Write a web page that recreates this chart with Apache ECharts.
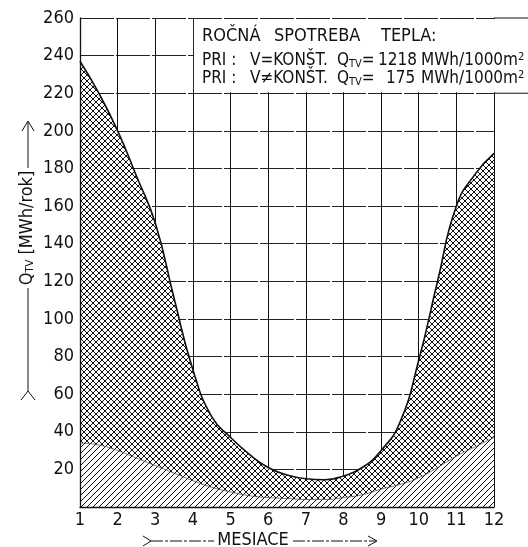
<!DOCTYPE html>
<html lang="sk">
<head>
<meta charset="UTF-8">
<title>Ročná spotreba tepla</title>
<script src="https://cdn.jsdelivr.net/npm/echarts@6/dist/echarts.min.js"></script>
<style>
    body { margin: 0; background: #fff; }
    #chart { width: 528px; height: 547px; }
</style>
</head>
<body>
<div id="chart"></div>
<script>
    // horná krivka (V = konšt.) - body odčítané z obrázka po pol mesiaci
    const upperX = [1, 1.5, 2, 2.5, 3, 3.5, 4, 4.5, 5, 5.5, 6, 6.5, 7, 7.5, 8, 8.5, 9, 9.5, 10, 10.5, 11, 11.5, 12]
    const upperY = [237, 220, 200, 176, 151, 111, 73, 48, 37, 28, 21, 17, 15, 14.5, 16.5, 21, 30, 45, 78, 120, 160, 177, 188]

    // dolná krivka (V ≠ konšt.)
    const lowerX = [1, 1.5, 2, 2.5, 3, 3.5, 4, 4.5, 5, 5.5, 6, 6.5, 7, 7.5, 8, 8.5, 9, 9.5, 10, 10.5, 11, 11.5, 12]
    const lowerY = [34, 33, 30, 26, 22, 18, 14, 10.5, 8, 6, 5, 4.5, 4, 4, 5, 6.5, 9.5, 12, 15.5, 21, 27, 32, 37]

    const yTicks = [20, 40, 60, 80, 100, 120, 140, 160, 180, 200, 220, 240, 260]
    const months = [1, 2, 3, 4, 5, 6, 7, 8, 9, 10, 11, 12]

    const F = '"DejaVu Sans Condensed", "Liberation Sans Narrow", "Liberation Sans", sans-serif'
    const INK = '#111'

    // rozmery grafu
    const L = 80, R = 34, T = 18, B = 40, W = 528, H = 547
    const px = m => L + (m - 1) * (W - L - R) / 11
    const py = v => T + (260 - v) * (H - T - B) / 260

    function hatch(cross, size, lw) {
        const c = document.createElement('canvas')
        c.width = c.height = size
        const g = c.getContext('2d')
        g.fillStyle = '#fff'
        g.fillRect(0, 0, size, size)
        g.strokeStyle = INK
        g.lineWidth = lw
        g.beginPath()
        g.moveTo(0, size); g.lineTo(size, 0)
        g.moveTo(-1, 1); g.lineTo(1, -1)
        g.moveTo(size - 1, size + 1); g.lineTo(size + 1, size - 1)
        if (cross) {
            g.moveTo(0, 0); g.lineTo(size, size)
            g.moveTo(-1, size - 1); g.lineTo(1, size + 1)
            g.moveTo(size - 1, -1); g.lineTo(size + 1, 1)
        }
        g.stroke()
        return c
    }

    const sub = { fontSize: 11, fontFamily: F, fill: INK, verticalAlign: 'bottom', padding: [7, 0, 0, 0] }
    const sup = { fontSize: 11, fontFamily: F, fill: INK, verticalAlign: 'top', padding: [0, 0, 7, 0] }

    function txt(x, y, s, size) {
        return {
            type: 'text', x: x, y: y, z: 110,
            style: { text: s, fontSize: size || 17, fontFamily: F, fill: INK,
                     align: 'left', verticalAlign: 'middle', rich: { s: sub, p: sup } }
        }
    }
    function seg(pts, dash) {
        return { type: 'polyline', z: 110, shape: { points: pts },
                 style: { stroke: INK, lineWidth: 1, fill: null, lineDash: dash || null } }
    }

    const chart = echarts.init(document.getElementById('chart'))

    const option = {
        animation: false,
        backgroundColor: '#fff',
        grid: { left: L, right: R, top: T, bottom: B },
        xAxis: {
            type: 'value', min: 1, max: 12, interval: 1, z: 3,
            axisLine: { show: true, lineStyle: { color: INK, width: 1.3 } },
            axisTick: { show: false },
            axisLabel: { color: INK, fontSize: 18, fontFamily: F, margin: 4,
                         formatter: v => months.includes(v) ? String(v) : '' },
            splitLine: { show: true, lineStyle: { color: INK, width: 1 } }
        },
        yAxis: {
            type: 'value', min: 0, max: 260, interval: 20, z: 3,
            axisLine: { show: true, lineStyle: { color: INK, width: 1.3 } },
            axisTick: { show: false },
            axisLabel: { color: INK, fontSize: 18, fontFamily: F, margin: 6,
                         formatter: v => yTicks.includes(v) ? String(v) : '' },
            splitLine: { show: true, lineStyle: { color: '#222', width: 1, type: [34, 2] } }
        },
        series: [
            {
                type: 'line',
                data: upperX.map((x, i) => [x, upperY[i]]),
                smooth: 0.5, symbol: 'none',
                lineStyle: { color: INK, width: 1.6 },
                areaStyle: { color: { image: hatch(true, 6, 1), repeat: 'repeat' }, opacity: 1 }
            },
            {
                type: 'line',
                data: lowerX.map((x, i) => [x, lowerY[i]]),
                smooth: 0.5, symbol: 'none',
                lineStyle: { color: '#444', width: 0.7 },
                areaStyle: { color: { image: hatch(false, 6, 1), repeat: 'repeat' }, opacity: 1 }
            }
        ],
        graphic: [
            // biely rámček s textom
            { type: 'rect', z: 105, shape: { x: px(4) + 1, y: T + 1, width: W - px(4) - 1, height: py(220) - T - 2 },
              style: { fill: '#fff' } },
            seg([[px(12), T], [W, T]]),
            seg([[px(12), py(220)], [W, py(220)]]),
            txt(202, 36, 'ROČNÁ', 18),
            txt(274, 36, 'SPOTREBA', 18),
            txt(381, 36, 'TEPLA:', 18),
            txt(202, 61, 'PRI :'),
            txt(250, 61, 'V=KONŠT.'),
            txt(337, 61, 'Q{s|TV}='),
            txt(378, 61, '1218'),
            txt(421, 61, 'MWh/1000m{p|2}'),
            txt(202, 79, 'PRI :'),
            txt(250, 79, 'V≠KONŠT.'),
            txt(337, 79, 'Q{s|TV}='),
            txt(386, 79, '175'),
            txt(421, 79, 'MWh/1000m{p|2}'),

            // os y - popis
            { type: 'text', x: 27, y: 228, z: 110, rotation: Math.PI / 2,
              style: { text: 'Q{s|TV} [MWh/rok]', fontSize: 18, fontFamily: F, fill: INK,
                       align: 'center', verticalAlign: 'middle', rich: { s: sub } } },
            seg([[28, 122], [28, 168]]),
            seg([[22, 131], [28, 121], [34, 131]]),
            seg([[28, 288], [28, 391]]),
            seg([[21, 400], [28, 391], [35, 400]]),

            // os x - popis
            { type: 'text', x: 253, y: 540, z: 110,
              style: { text: 'MESIACE', fontSize: 18, fontFamily: F, fill: INK, align: 'center', verticalAlign: 'middle' } },
            seg([[151, 541], [214, 541]], [12, 2, 3, 2]),
            seg([[143, 536], [151, 541], [143, 546]]),
            seg([[293, 541], [376, 541]], [12, 2, 3, 2]),
            seg([[368, 536], [377, 541], [368, 546]])
        ]
    }

    chart.setOption(option)
</script>
</body>
</html>
